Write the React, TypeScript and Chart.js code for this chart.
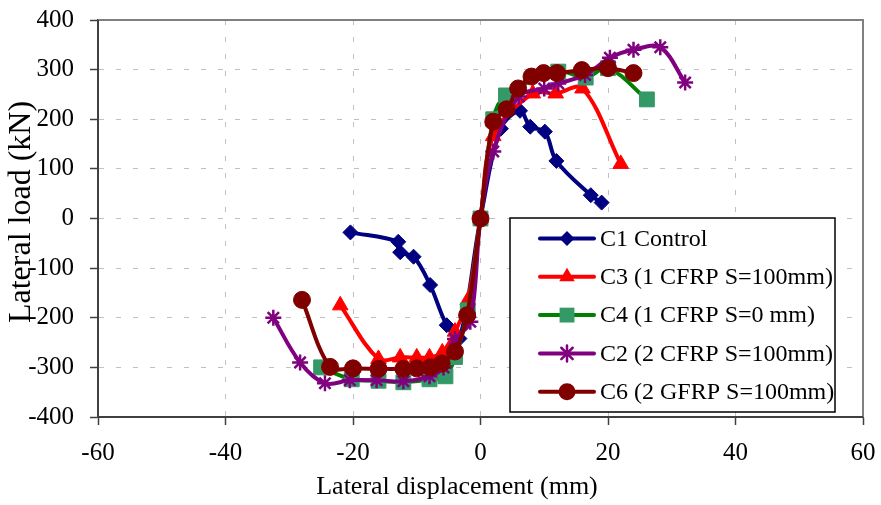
import React, { useEffect, useRef } from 'react';
import { Chart, registerables } from 'chart.js';

Chart.register(...registerables);

// ---- axis ranges / ticks ----
const X_MIN = -60;
const X_MAX = 60;
const X_STEP = 20;
const Y_MIN = -400;
const Y_MAX = 400;
const Y_STEP = 100;

const X_TITLE = 'Lateral displacement (mm)';
const Y_TITLE = 'Lateral load (kN)';

// ---- series data ----
const c1Name = 'C1 Control';
const c1X = [-20.4, -12.9, -12.6, -10.5, -7.9, -5.3, -3.3, 0, 3.2, 6.2, 7.8, 10.1, 11.9, 17.3, 19.0];
const c1Y = [-28, -47, -68, -77, -134, -215, -242, 0, 181, 217, 185, 175, 116, 47, 32];

const c3Name = 'C3 (1 CFRP S=100mm)';
const c3X = [-22, -16, -12.6, -10, -8, -6, -4, -2, 0, 2, 8.2, 11.8, 16, 22];
const c3Y = [-175, -283, -280, -280, -280, -270, -228, -165, 0, 166, 252, 252, 262, 110];

const c4Name = 'C4 (1 CFRP S=0 mm)';
const c4X = [-25, -20.2, -16, -12.1, -8, -5.5, -4, -2, 0, 2, 4, 12.2, 16.5, 20, 26.1];
const c4Y = [-300, -324, -327, -330, -324, -318, -279, -185, 0, 200, 248, 296, 284, 303, 240];

const c2Name = 'C2 (2 CFRP S=100mm)';
const c2X = [-32.5, -28.3, -24.4, -20.5, -16.3, -12.1, -8, -5.8, -4, -1.6, 0, 2, 6, 10, 12.2, 16.4, 20.3, 24, 28.2, 32.1];
const c2Y = [-200, -290, -332, -326, -326, -328, -318, -300, -243, -208, 0, 135, 246, 262, 272, 289, 324, 340, 345, 274];

const c6Name = 'C6 (2 GFRP S=100mm)';
const c6X = [-28, -23.6, -20, -16, -12.1, -10, -7.9, -6.1, -4, -2.1, 0, 2, 4.1, 5.9, 8, 9.9, 12, 15.9, 20, 24];
const c6Y = [-164, -299, -302, -303, -303, -302, -300, -292, -268, -195, 0, 195, 220, 262, 286, 293, 293, 299, 303, 293];

const FONT = '"Liberation Serif", "Times New Roman", serif';

const toPts = (xs: number[], ys: number[]) => xs.map((x, i) => ({ x, y: ys[i] }));

type SeriesStyle = {
  name: string;
  line: string;
  fill: string;
  shape: 'rectRot' | 'triangle' | 'rect' | 'star' | 'circle';
  radius: number;
};

const STYLES: SeriesStyle[] = [
  { name: c1Name, line: '#000080', fill: '#000080', shape: 'rectRot', radius: 7.5 },
  { name: c3Name, line: '#FF0000', fill: '#FF0000', shape: 'triangle', radius: 9 },
  { name: c4Name, line: '#008000', fill: '#339966', shape: 'rect', radius: 10.5 },
  { name: c2Name, line: '#800080', fill: '#800080', shape: 'star', radius: 8 },
  { name: c6Name, line: '#800000', fill: '#800000', shape: 'circle', radius: 8.5 },
];

function drawMarker(ctx: CanvasRenderingContext2D, s: SeriesStyle, x: number, y: number) {
  const r = s.radius;
  ctx.save();
  ctx.fillStyle = s.fill;
  ctx.strokeStyle = s.fill;
  ctx.lineWidth = 1;
  ctx.beginPath();
  if (s.shape === 'rectRot') {
    ctx.moveTo(x, y - r);
    ctx.lineTo(x + r, y);
    ctx.lineTo(x, y + r);
    ctx.lineTo(x - r, y);
    ctx.closePath();
    ctx.fill();
  } else if (s.shape === 'triangle') {
    const h = r * 1.5;
    ctx.moveTo(x, y - h * 2 / 3);
    ctx.lineTo(x + r * 0.866, y + h / 3);
    ctx.lineTo(x - r * 0.866, y + h / 3);
    ctx.closePath();
    ctx.fill();
  } else if (s.shape === 'rect') {
    const a = r * Math.SQRT1_2;
    ctx.rect(x - a, y - a, 2 * a, 2 * a);
    ctx.fill();
  } else if (s.shape === 'star') {
    ctx.lineWidth = 2.5;
    ctx.moveTo(x, y - r);
    ctx.lineTo(x, y + r);
    const d = r * Math.cos(Math.PI / 4);
    ctx.moveTo(x - d, y - d);
    ctx.lineTo(x + d, y + d);
    ctx.moveTo(x - d, y + d);
    ctx.lineTo(x + d, y - d);
    ctx.stroke();
  } else {
    ctx.arc(x, y, r, 0, Math.PI * 2);
    ctx.fill();
  }
  ctx.restore();
}

const framePlugin = {
  id: 'frame',
  afterDraw(chart: any) {
    const { ctx, chartArea } = chart;
    const { left, right, top, bottom } = chartArea;
    ctx.save();
    ctx.strokeStyle = '#808080';
    ctx.lineWidth = 2;
    ctx.beginPath();
    ctx.moveTo(left, top);
    ctx.lineTo(right, top);
    ctx.lineTo(right, bottom);
    ctx.stroke();
    ctx.strokeStyle = '#404040';
    ctx.beginPath();
    ctx.moveTo(left, top);
    ctx.lineTo(left, bottom);
    ctx.lineTo(right, bottom);
    ctx.stroke();
    ctx.restore();
  },
};

const titlesPlugin = {
  id: 'axisTitles',
  afterDraw(chart: any) {
    const { ctx } = chart;
    ctx.save();
    ctx.fillStyle = '#000000';
    ctx.textAlign = 'center';
    ctx.textBaseline = 'middle';
    ctx.font = `26px ${FONT}`;
    ctx.fillText(X_TITLE, 457, 487);
    ctx.translate(22, 212);
    ctx.rotate(-Math.PI / 2);
    ctx.font = `32px ${FONT}`;
    ctx.fillText(Y_TITLE, 0, 0);
    ctx.restore();
  },
};

const legendPlugin = {
  id: 'boxLegend',
  afterDraw(chart: any) {
    const { ctx } = chart;
    const bx = 510, by = 218, bw = 325, bh = 194;
    ctx.save();
    ctx.fillStyle = '#ffffff';
    ctx.fillRect(bx, by, bw, bh);
    ctx.strokeStyle = '#000000';
    ctx.lineWidth = 1.5;
    ctx.strokeRect(bx, by, bw, bh);
    ctx.font = `24px ${FONT}`;
    ctx.textBaseline = 'middle';
    ctx.textAlign = 'left';
    STYLES.forEach((s, i) => {
      const y = 238.5 + i * 38.3;
      ctx.strokeStyle = s.line;
      ctx.lineWidth = 4;
      ctx.lineCap = 'round';
      ctx.beginPath();
      ctx.moveTo(540, y);
      ctx.lineTo(594, y);
      ctx.stroke();
      drawMarker(ctx, s, 567, y);
      ctx.fillStyle = '#000000';
      ctx.fillText(s.name, 600, y + 1);
    });
    ctx.restore();
  },
};

export default function App() {
  const canvasRef = useRef<HTMLCanvasElement | null>(null);

  useEffect(() => {
    document.body.style.margin = '0';
    const canvas = canvasRef.current;
    if (!canvas) return;
    const series = [
      toPts(c1X, c1Y),
      toPts(c3X, c3Y),
      toPts(c4X, c4Y),
      toPts(c2X, c2Y),
      toPts(c6X, c6Y),
    ];
    const datasets = STYLES.map((s, i) => ({
      label: s.name,
      data: series[i],
      showLine: true,
      borderColor: s.line,
      backgroundColor: s.fill,
      borderWidth: 4,
      tension: 0.35,
      pointStyle: s.shape,
      pointRadius: s.radius,
      pointHoverRadius: s.radius,
      pointBackgroundColor: s.fill,
      pointBorderColor: s.fill,
      pointBorderWidth: s.shape === 'star' ? 2.5 : 1,
      order: STYLES.length - 1 - i,
    }));

    const zeroPad = (scale: any) => {
      scale.paddingTop = 0;
      scale.paddingBottom = 0;
      scale.paddingLeft = 0;
      scale.paddingRight = 0;
    };

    const chart = new Chart(canvas, {
      type: 'scatter',
      data: { datasets },
      options: {
        animation: false,
        responsive: false,
        devicePixelRatio: 1,
        layout: { autoPadding: false, padding: { left: 0, right: 18, top: 20, bottom: 0 } },
        plugins: {
          legend: { display: false },
          tooltip: { enabled: false },
        },
        scales: {
          x: {
            type: 'linear',
            min: X_MIN,
            max: X_MAX,
            afterFit: (scale: any) => { scale.height = 88; zeroPad(scale); },
            ticks: {
              stepSize: X_STEP,
              color: '#000000',
              font: { family: FONT, size: 25 },
              padding: 13,
              maxRotation: 0,
            },
            grid: {
              color: '#c0c0c0',
              lineWidth: 1,
              tickColor: '#404040',
              tickLength: 8,
              tickWidth: 1.5,
            },
            border: { display: true, color: '#404040', width: 2, dash: [5, 12] },
            title: { display: false },
          },
          y: {
            type: 'linear',
            min: Y_MIN,
            max: Y_MAX,
            afterFit: (scale: any) => { scale.width = 98; zeroPad(scale); },
            ticks: {
              stepSize: Y_STEP,
              color: '#000000',
              font: { family: FONT, size: 25 },
              padding: 16,
            },
            grid: {
              color: '#c0c0c0',
              lineWidth: 1,
              tickColor: '#404040',
              tickLength: 8,
              tickWidth: 1.5,
            },
            border: { display: true, color: '#404040', width: 2, dash: [5, 12] },
            title: { display: false },
          },
        },
      },
      plugins: [framePlugin, titlesPlugin, legendPlugin],
    } as any);

    return () => chart.destroy();
  }, []);

  return (
    <div style={{ width: 881, height: 505, position: 'relative', background: '#ffffff' }}>
      <canvas ref={canvasRef} width={881} height={505} style={{ width: 881, height: 505, display: 'block' }} />
    </div>
  );
}
